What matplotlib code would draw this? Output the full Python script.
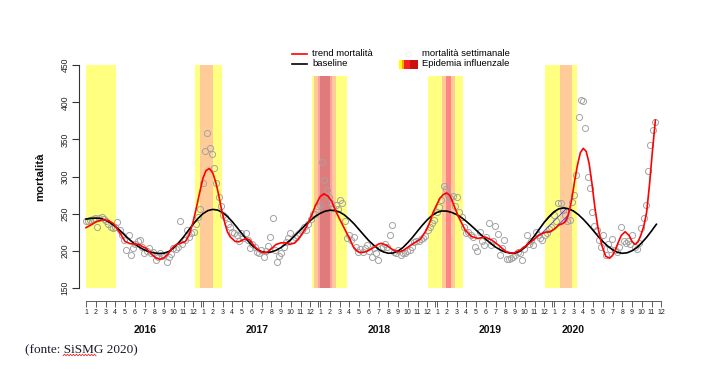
import matplotlib
matplotlib.use('Agg')
import matplotlib.pyplot as plt
from matplotlib.patches import Rectangle
from matplotlib.lines import Line2D
import numpy as np

plt.rcParams['font.family'] = ['Liberation Sans', 'DejaVu Sans']
plt.rcParams['hatch.linewidth'] = 0.6

# ---------------- data ----------------
years = ['2016', '2017', '2018', '2019', '2020']
month_labels = [str(m) for m in range(1, 13)]

# baseline, sampled every half month from Jan 2016 (t in months)
baseline_v = [243, 244, 244.3, 244, 241.5, 238, 233, 227.5, 221, 215, 209.5, 205, 201.5, 199, 197.5, 196.8, 197.2,
              199.5, 204.4, 211.2, 218.9, 227.7, 236.3, 244, 250.3, 254.4, 256,
              255.1, 251.8, 246.6, 239.6, 231.6, 223.3, 215.3, 208.1, 202.8, 199.2, 198,
              198.8, 201.1, 204.7, 209.7, 215.4, 221.9, 228.5, 235.1, 240.9, 246.5, 250.6, 253.5, 254.9,
              254.6, 252.5, 248.6, 243, 236.5, 229, 221.5, 214.1, 208, 202.5, 198.9, 197.1,
              197.4, 200, 204.7, 211.3, 218.6, 226.8, 234.8, 242, 248, 252, 253.9,
              253.7, 252, 249.1, 245.1, 240, 234.3, 228.3, 222.1, 216, 210.3, 205.4, 201.6, 198.7, 197.3,
              197.2, 199.7, 204.8, 211.9, 220.5, 229.7, 238.7, 246.4, 252.8, 256.8, 258,
              256.8, 253.8, 249, 242.8, 235.7, 228, 220.2, 212.9, 206.8, 201.8, 198.4, 197,
              197.7, 200.4, 204.7, 211.2, 218.5, 227, 236]
baseline_t = [0.5 * i for i in range(len(baseline_v))]

trend_t = [0, 0.5, 1.0, 1.5, 1.8, 2.3, 2.8, 3.2, 3.5, 4.0, 4.5, 5.0, 5.4, 5.8, 6.2, 6.7, 7.2, 7.6, 8.0, 8.4,
           8.9, 9.3, 9.7, 10.2, 10.6, 11.0, 11.35, 11.7, 12.0, 12.3, 12.65, 13.0, 13.3, 13.6, 13.9, 14.25,
           14.5, 14.8, 15.3, 15.7, 16.1, 16.4, 16.8, 17.3, 17.8, 18.2, 18.6, 19.0, 19.5, 20.0, 20.4, 20.9,
           21.4, 21.8, 22.1, 22.5, 22.8, 23.2, 23.5, 24.0, 24.4, 24.8, 25.2, 25.6, 26.05, 26.6, 27.1, 27.4,
           27.8, 28.1, 28.5, 28.8, 29.4, 30.0, 30.3, 30.8, 31.5, 32.0, 32.5, 33.0, 33.6, 34.3, 34.9, 35.3,
           35.6, 35.96, 36.3, 36.65, 37.0, 37.3, 37.6, 37.9, 38.2, 38.9, 39.55, 40.2, 40.9, 41.6, 42.3, 43.1,
           43.8, 44.5, 45.2, 45.9, 46.4, 47.0, 47.6, 48.1, 48.5, 48.9, 49.2, 49.5, 49.8, 50.1, 50.4, 50.7,
           51.0, 51.3, 51.6, 51.9, 52.2, 52.5, 52.9, 53.3, 53.7, 54.0, 54.3, 54.6, 54.9, 55.3, 55.7, 56.0,
           56.3, 56.6, 56.9, 57.2, 57.5, 57.8, 58.1, 58.4]
trend_v = [231.5, 235, 239, 241.5, 242, 241, 237, 230, 224, 213, 210, 209.5, 209, 206, 203.5, 196, 190.5, 189, 191, 196,
           205, 209, 210.5, 213, 222, 240, 260, 281, 298, 308, 311, 305, 293, 276, 256, 237,
           226, 219, 213, 212.5, 215, 217, 215, 206, 200, 198, 198.5, 203, 209, 211, 211.3, 209,
           211, 216, 222, 230, 238, 250, 260, 273, 277, 274, 267, 254, 242, 228, 215, 206,
           200, 198, 198.5, 199.5, 204, 209.5, 210.4, 208, 201.5, 199, 200.5, 205, 210.5, 216, 228, 240,
           252, 262, 271, 276, 278, 275, 266, 256, 246, 228, 219.5, 217, 219, 215, 208, 199,
           197, 201, 208, 215, 221, 225, 226, 230, 235, 237, 240, 250, 268, 293, 315, 332,
           338, 334, 318, 290, 258, 232, 208, 193, 190.5, 194, 202, 212, 221, 226, 221, 213,
           209, 212, 221, 233, 252, 290, 335, 376]

# weekly observed mortality
weekly_2016 = [240, 241, 242, 243, 244, 232, 245, 246, 243, 240, 237, 233, 231, 233, 239, 228, 222,
               215, 201, 221, 195, 204, 209, 214, 215, 205, 197, 200, 204, 197, 199, 188, 192, 197,
               193, 195, 186, 192, 196, 204, 203, 205, 240, 210, 215, 228, 219, 224, 226, 236, 246, 257]
weekly_2017 = [291, 334, 358, 338, 331, 312, 292, 273, 260, 248, 246, 237, 233, 226, 224, 221, 213,
               224, 217, 224, 215, 204, 210, 206, 199, 197, 201, 192, 200, 207, 219, 244, 201, 186,
               193, 197, 206, 212, 217, 224, 215, 219, 222, 224, 228, 233, 228, 237, 243, 250, 250, 260]
weekly_2018 = [262, 320, 295, 282, 273, 264, 258, 262, 257, 269, 264, 240, 217, 222, 215, 219, 205,
               199, 203, 199, 204, 208, 200, 192, 204, 198, 188, 204, 206, 210, 205, 222, 235, 199,
               197, 201, 195, 198, 197, 200, 202, 206, 212, 213, 214, 216, 217, 220, 228, 233, 238, 242]
weekly_2019 = [252, 259, 268, 288, 284, 275, 271, 274, 260, 272, 252, 246, 232, 224, 226, 222, 219,
               206, 200, 226, 214, 208, 219, 238, 208, 214, 234, 223, 195, 204, 215, 190, 190, 191,
               192, 195, 199, 197, 188, 203, 222, 210, 213, 208, 226, 222, 218, 215, 222, 224, 230, 233]
weekly_2020 = [248, 240, 264, 264, 255, 248, 240, 242, 266, 275, 302, 380, 403, 402, 366, 300, 285,
               252, 234, 228, 215, 206, 222, 195, 210, 203, 216, 201, 199, 205, 233, 213, 211, 213,
               210, 222, 206, 203, 211, 231, 245, 262, 307, 342, 363, 374]
weekly = [weekly_2016, weekly_2017, weekly_2018, weekly_2019, weekly_2020]

# influenza epidemic periods (months from Jan 2016), by intensity level
epi_low = [(0.0, 3.05), (11.18, 13.92), (23.15, 26.74), (35.1, 38.7), (47.08, 50.39)]
epi_mid = [(11.69, 13.03), (23.4, 25.6), (36.48, 37.85), (48.62, 49.82)]
epi_high = [(23.83, 25.19)]
epi_vhigh = [(24.0, 25.0), (36.9, 37.4)]
vhigh_colors = ['#e07b7b', '#ff8484']
deficit_range = (45.5, 49.6)

# ---------------- figure ----------------
W, H = 701, 378
fig = plt.figure(figsize=(W / 100, H / 100), dpi=100)
ax_l, ax_r, ax_t, ax_b = 79, 665, 65, 288.3
ax = fig.add_axes([ax_l / W, 1 - ax_b / H, (ax_r - ax_l) / W, (ax_b - ax_t) / H])
ax.set_xlim((ax_l - 86) / 9.75, (ax_r - 86) / 9.75)
ax.set_ylim(150, 450)

for a, b in epi_low:
    ax.axvspan(a, b, color='#ffff80', lw=0, zorder=0)
for a, b in epi_mid:
    ax.axvspan(a, b, color='#ffcc99', lw=0, zorder=0.1)
for a, b in epi_high:
    ax.axvspan(a, b, color='#ffa0a0', lw=0, zorder=0.15)
for (a, b), c in zip(epi_vhigh, vhigh_colors):
    ax.axvspan(a, b, color=c, lw=0, zorder=0.2)

wk = 12 / 52.18
for k, vals in enumerate(weekly):
    tt = [12 * k + w * wk for w in range(len(vals))]
    ax.plot(tt, vals, ls='none', marker='o', ms=4.4, mfc='none', mec='#a3a3a3', mew=0.7, zorder=2)

# deficit hatch (trend below baseline)
rt = [t for t in trend_t if deficit_range[0] <= t <= deficit_range[1]]
rv = [v for t, v in zip(trend_t, trend_v) if deficit_range[0] <= t <= deficit_range[1]]
bt = [t for t in baseline_t if deficit_range[0] <= t <= deficit_range[1]]
bv = [v for t, v in zip(baseline_t, baseline_v) if deficit_range[0] <= t <= deficit_range[1]]
ax.fill(rt + bt[::-1], rv + bv[::-1], facecolor='none', edgecolor='#3a3aff', hatch='////', lw=0.5, zorder=2.5)

ax.plot(baseline_t, baseline_v, color='black', lw=1.2, zorder=3)
ax.plot(trend_t, trend_v, color='#ff0000', lw=1.2, zorder=4)

# axes styling
for s in ['top', 'right']:
    ax.spines[s].set_visible(False)
ax.spines['left'].set_bounds(150, 450)
ax.spines['left'].set_linewidth(0.8)
ax.spines['left'].set_color('#333333')
ax.set_yticks([150, 200, 250, 300, 350, 400, 450])
ax.tick_params(axis='y', direction='out', length=4.8, width=0.8, color='#333333', labelsize=6.2,
               labelrotation=90, pad=2, labelcolor='#222222')
for lab in ax.get_yticklabels():
    lab.set_va('center')

ax.spines['bottom'].set_position(('outward', 9.4))
ax.spines['bottom'].set_bounds(0, 59)
ax.spines['bottom'].set_linewidth(0.6)
ax.spines['bottom'].set_color('#444444')
ax.set_xticks(range(60))
ax.set_xticklabels(month_labels * 5)
ax.set_xticks([12 * k - 0.17 for k in range(1, 5)], minor=True)
ax.tick_params(axis='x', which='both', direction='out', length=4.2, width=0.6, color='#444444',
               labelsize=5, pad=1.2, labelcolor='#222222')

year_pos = [6.05, 17.6, 30.1, 41.4, 50.0]
for yl, xp in zip(years, year_pos):
    ax.text(xp, -0.185, yl, transform=ax.get_xaxis_transform(), ha='center', va='center',
            fontsize=7.5, fontweight='bold', color='#111111')

fig.text(40 / W, 1 - 177 / H, 'mortalità', rotation=90, ha='center', va='center',
         fontsize=8.2, fontweight='bold', color='#111111')

# ---------------- overlay: legend and source ----------------
ov = fig.add_axes([0, 0, 1, 1])
ov.set_xlim(0, W)
ov.set_ylim(H, 0)
ov.axis('off')
ov.patch.set_alpha(0)

ov.add_patch(Rectangle((286, 43), 232, 33, facecolor='white', edgecolor='none', zorder=1))
ov.add_line(Line2D([292, 307], [54, 54], color='#ff0000', lw=1.2, zorder=2))
ov.add_line(Line2D([292, 307], [64, 64], color='black', lw=1.2, zorder=2))
ov.text(312, 54, 'trend mortalità', fontsize=6.8, va='center', ha='left', zorder=3)
ov.text(312, 64, 'baseline', fontsize=6.8, va='center', ha='left', zorder=3)
ov.plot([408], [54], marker='o', ms=3.5, mfc='none', mec='#ececec', mew=0.6, zorder=3)
ov.text(422, 54, 'mortalità settimanale', fontsize=6.8, va='center', ha='left', zorder=3)
ov.text(422, 64, 'Epidemia influenzale', fontsize=6.8, va='center', ha='left', zorder=3)
grad = [(399, 401.5, '#ffff00'), (401.5, 404, '#ffa500'), (404, 410, '#f52020'), (410, 418, '#cc0e0e')]
for a, b, c in grad:
    ov.add_patch(Rectangle((a, 60.3), b - a, 8.4, facecolor=c, edgecolor='none', zorder=3))

ov.text(25, 350, '(fonte: SiSMG 2020)', family=['Liberation Serif', 'DejaVu Serif'], fontsize=9.5,
        va='center', ha='left', color='#1a1a2a')
zx = np.arange(63, 97.5, 1.5)
zy = 355 + 0.8 * np.array([(-1) ** i for i in range(len(zx))])
ov.add_line(Line2D(zx, zy, color='#e03030', lw=0.6))

fig.savefig('out.png', dpi=100)
